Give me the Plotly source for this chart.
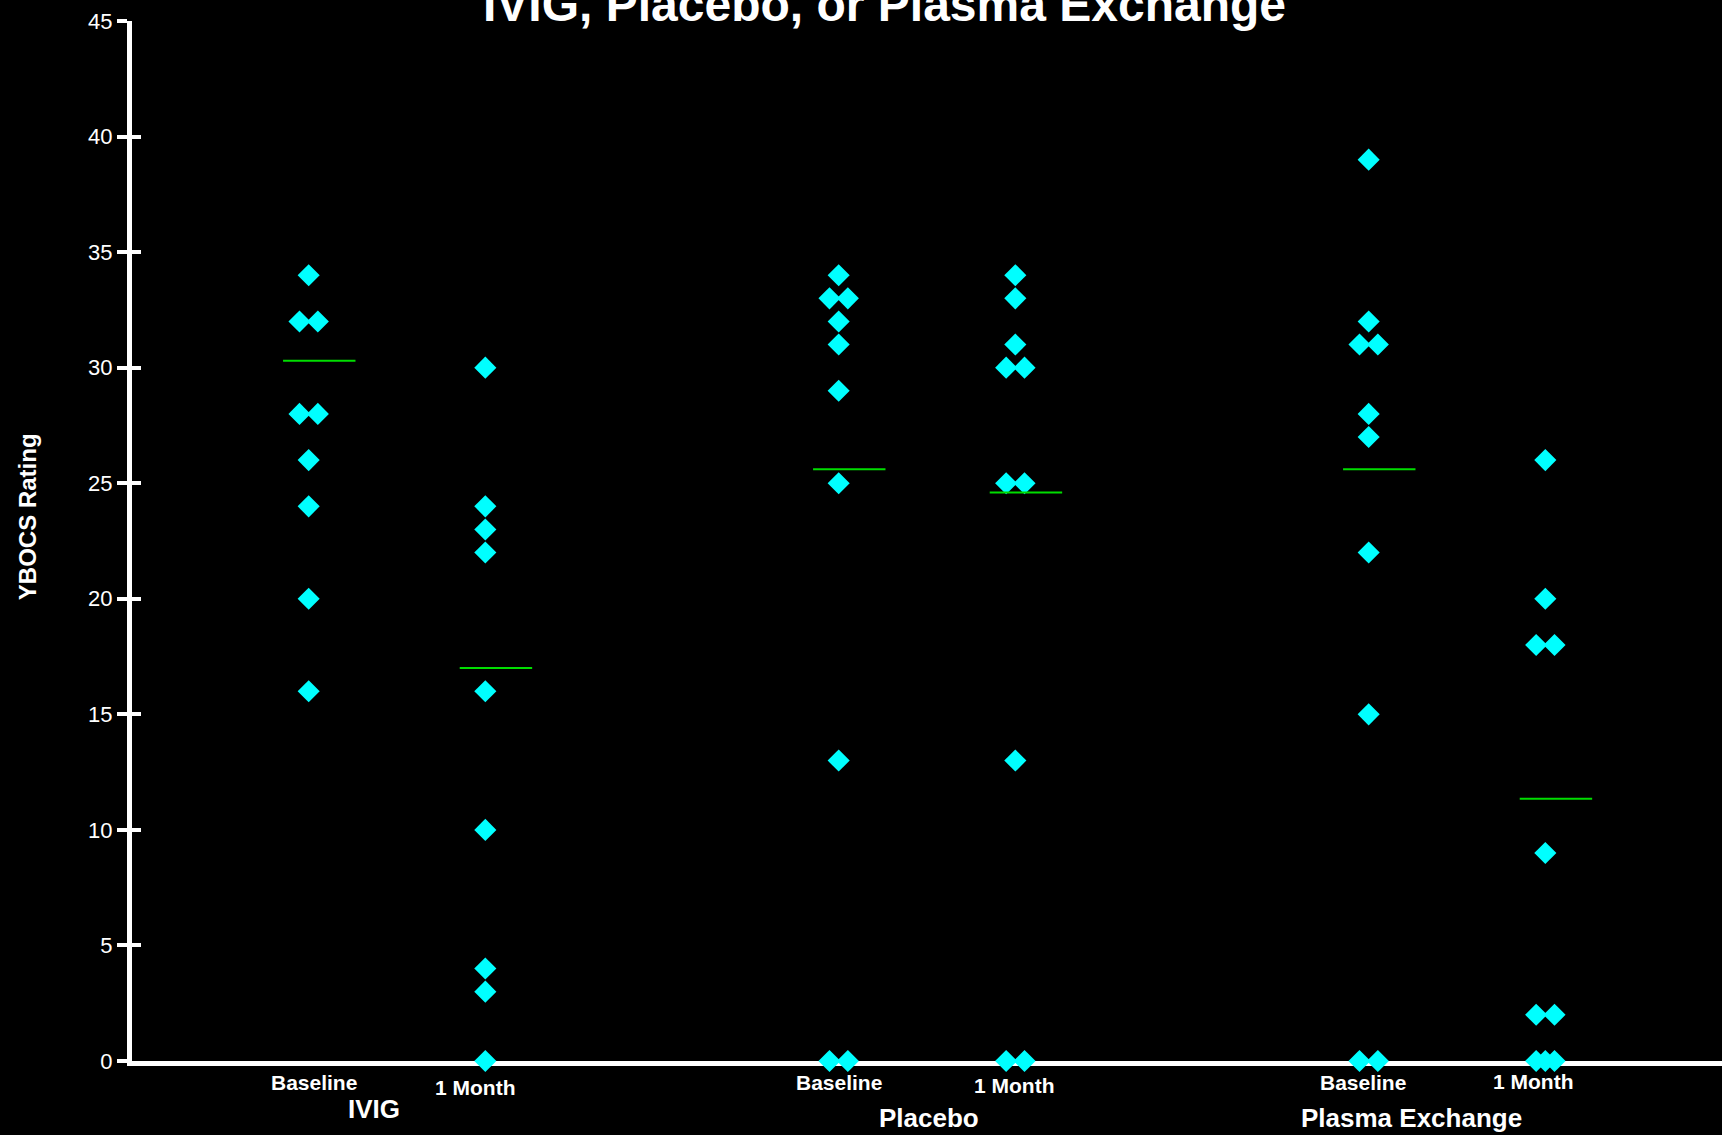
import plotly.graph_objects as go
from collections import Counter

# ---- data ----
groups = ["IVIG", "Placebo", "Plasma Exchange"]
timepoints = ["Baseline", "1 Month"]
positions = [1, 2, 4, 5, 7, 8]

ivig_baseline = [34, 32, 32, 28, 28, 26, 24, 20, 16]
ivig_1month = [30, 24, 23, 22, 16, 10, 4, 3, 0]
placebo_baseline = [34, 33, 33, 32, 31, 29, 25, 13, 0, 0]
placebo_1month = [34, 33, 31, 30, 30, 25, 25, 13, 0, 0]
plasma_baseline = [39, 32, 31, 31, 28, 27, 22, 15, 0, 0]
plasma_1month = [26, 20, 18, 18, 9, 2, 2, 0, 0, 0]

mean_values = [30.3, 17.0, 25.6, 24.6, 25.6, 11.35]

y_ticks = [0, 5, 10, 15, 20, 25, 30, 35, 40, 45]

series = [ivig_baseline, ivig_1month, placebo_baseline, placebo_1month,
          plasma_baseline, plasma_1month]

FONT = "Arial, Liberation Sans, sans-serif"
CYAN = "#00FFFF"
GREEN = "#00DD00"

# spread duplicate values side by side
xs, ys = [], []
spread = 0.052
for pos, vals in zip(positions, series):
    counts = Counter(vals)
    seen = Counter()
    for v in vals:
        n = counts[v]
        if n == 1:
            off = 0.0
        else:
            off = -spread + 2 * spread * seen[v] / (n - 1)
        seen[v] += 1
        xs.append(pos + off)
        ys.append(v)

fig = go.Figure()
fig.add_trace(go.Scatter(
    x=xs, y=ys, mode="markers",
    marker=dict(symbol="diamond", size=17, color=CYAN, line=dict(width=0)),
    cliponaxis=False, showlegend=False, hoverinfo="y"))

mx, my = [], []
for pos, m in zip(positions, mean_values):
    mx += [pos - 0.145, pos + 0.265, None]
    my += [m, m, None]
fig.add_trace(go.Scatter(x=mx, y=my, mode="lines",
                         line=dict(color=GREEN, width=2),
                         showlegend=False, hoverinfo="skip"))

# axis labels as annotations
annotations = []
label_y = [-0.021, -0.025, -0.021, -0.024, -0.021, -0.020]
label_dx = [0.03, -0.06, 0.0, -0.01, -0.03, -0.07]
for i, pos in enumerate(positions):
    annotations.append(dict(
        x=pos + label_dx[i], y=label_y[i], xref="x", yref="paper",
        text=timepoints[i % 2], showarrow=False, yanchor="middle",
        font=dict(family=FONT, size=21, color="white", weight="bold")))
group_x = [1.37, 4.51, 7.24]
group_y = [-0.046, -0.055, -0.055]
for g, gx, gy in zip(groups, group_x, group_y):
    annotations.append(dict(
        x=gx, y=gy, xref="x", yref="paper", text=g, showarrow=False,
        yanchor="middle",
        font=dict(family=FONT, size=26, color="white", weight="bold")))
annotations.append(dict(
    x=-0.066, y=0.523, xref="paper", yref="paper", text="YBOCS Rating",
    textangle=-90, showarrow=False, xanchor="center", yanchor="middle",
    font=dict(family=FONT, size=24, color="white", weight="bold")))
annotations.append(dict(
    x=0.473, y=1.0154, xref="paper", yref="paper",
    text="IVIG, Placebo, or Plasma Exchange", showarrow=False,
    xanchor="center", yanchor="middle",
    font=dict(family=FONT, size=48, color="white", weight="bold")))

fig.update_layout(
    width=1722, height=1135,
    paper_bgcolor="black", plot_bgcolor="black",
    margin=dict(l=132, r=0, t=21, b=74),
    showlegend=False,
    annotations=annotations,
    xaxis=dict(range=[0, 9], showgrid=False, zeroline=False,
               showline=True, linecolor="white", linewidth=5,
               tickvals=[p + 0.03 for p in positions], ticks="outside",
               ticklen=3, tickwidth=1.5, tickcolor="black",
               showticklabels=False, layer="below traces"),
    yaxis=dict(range=[0, 45], showgrid=False, zeroline=False,
               showline=True, linecolor="white", linewidth=5,
               tickvals=y_ticks, ticks="outside", ticklen=10, tickwidth=4,
               tickcolor="white",
               tickfont=dict(family=FONT, size=22, color="white"),
               layer="below traces"),
    yaxis2=dict(range=[0, 45], overlaying="y", side="left", anchor="x",
                showgrid=False, zeroline=False, showline=False,
                tickvals=y_ticks, ticks="inside", ticklen=9, tickwidth=4,
                tickcolor="white", showticklabels=False),
)
# dummy trace to activate yaxis2
fig.add_trace(go.Scatter(x=[None], y=[None], yaxis="y2", showlegend=False))

fig.write_html(
    "out.html",
    config={"displayModeBar": False},
    post_script=("document.body.style.margin='0';"
                 "document.body.style.background='black';"
                 "document.body.style.overflow='hidden';"))
